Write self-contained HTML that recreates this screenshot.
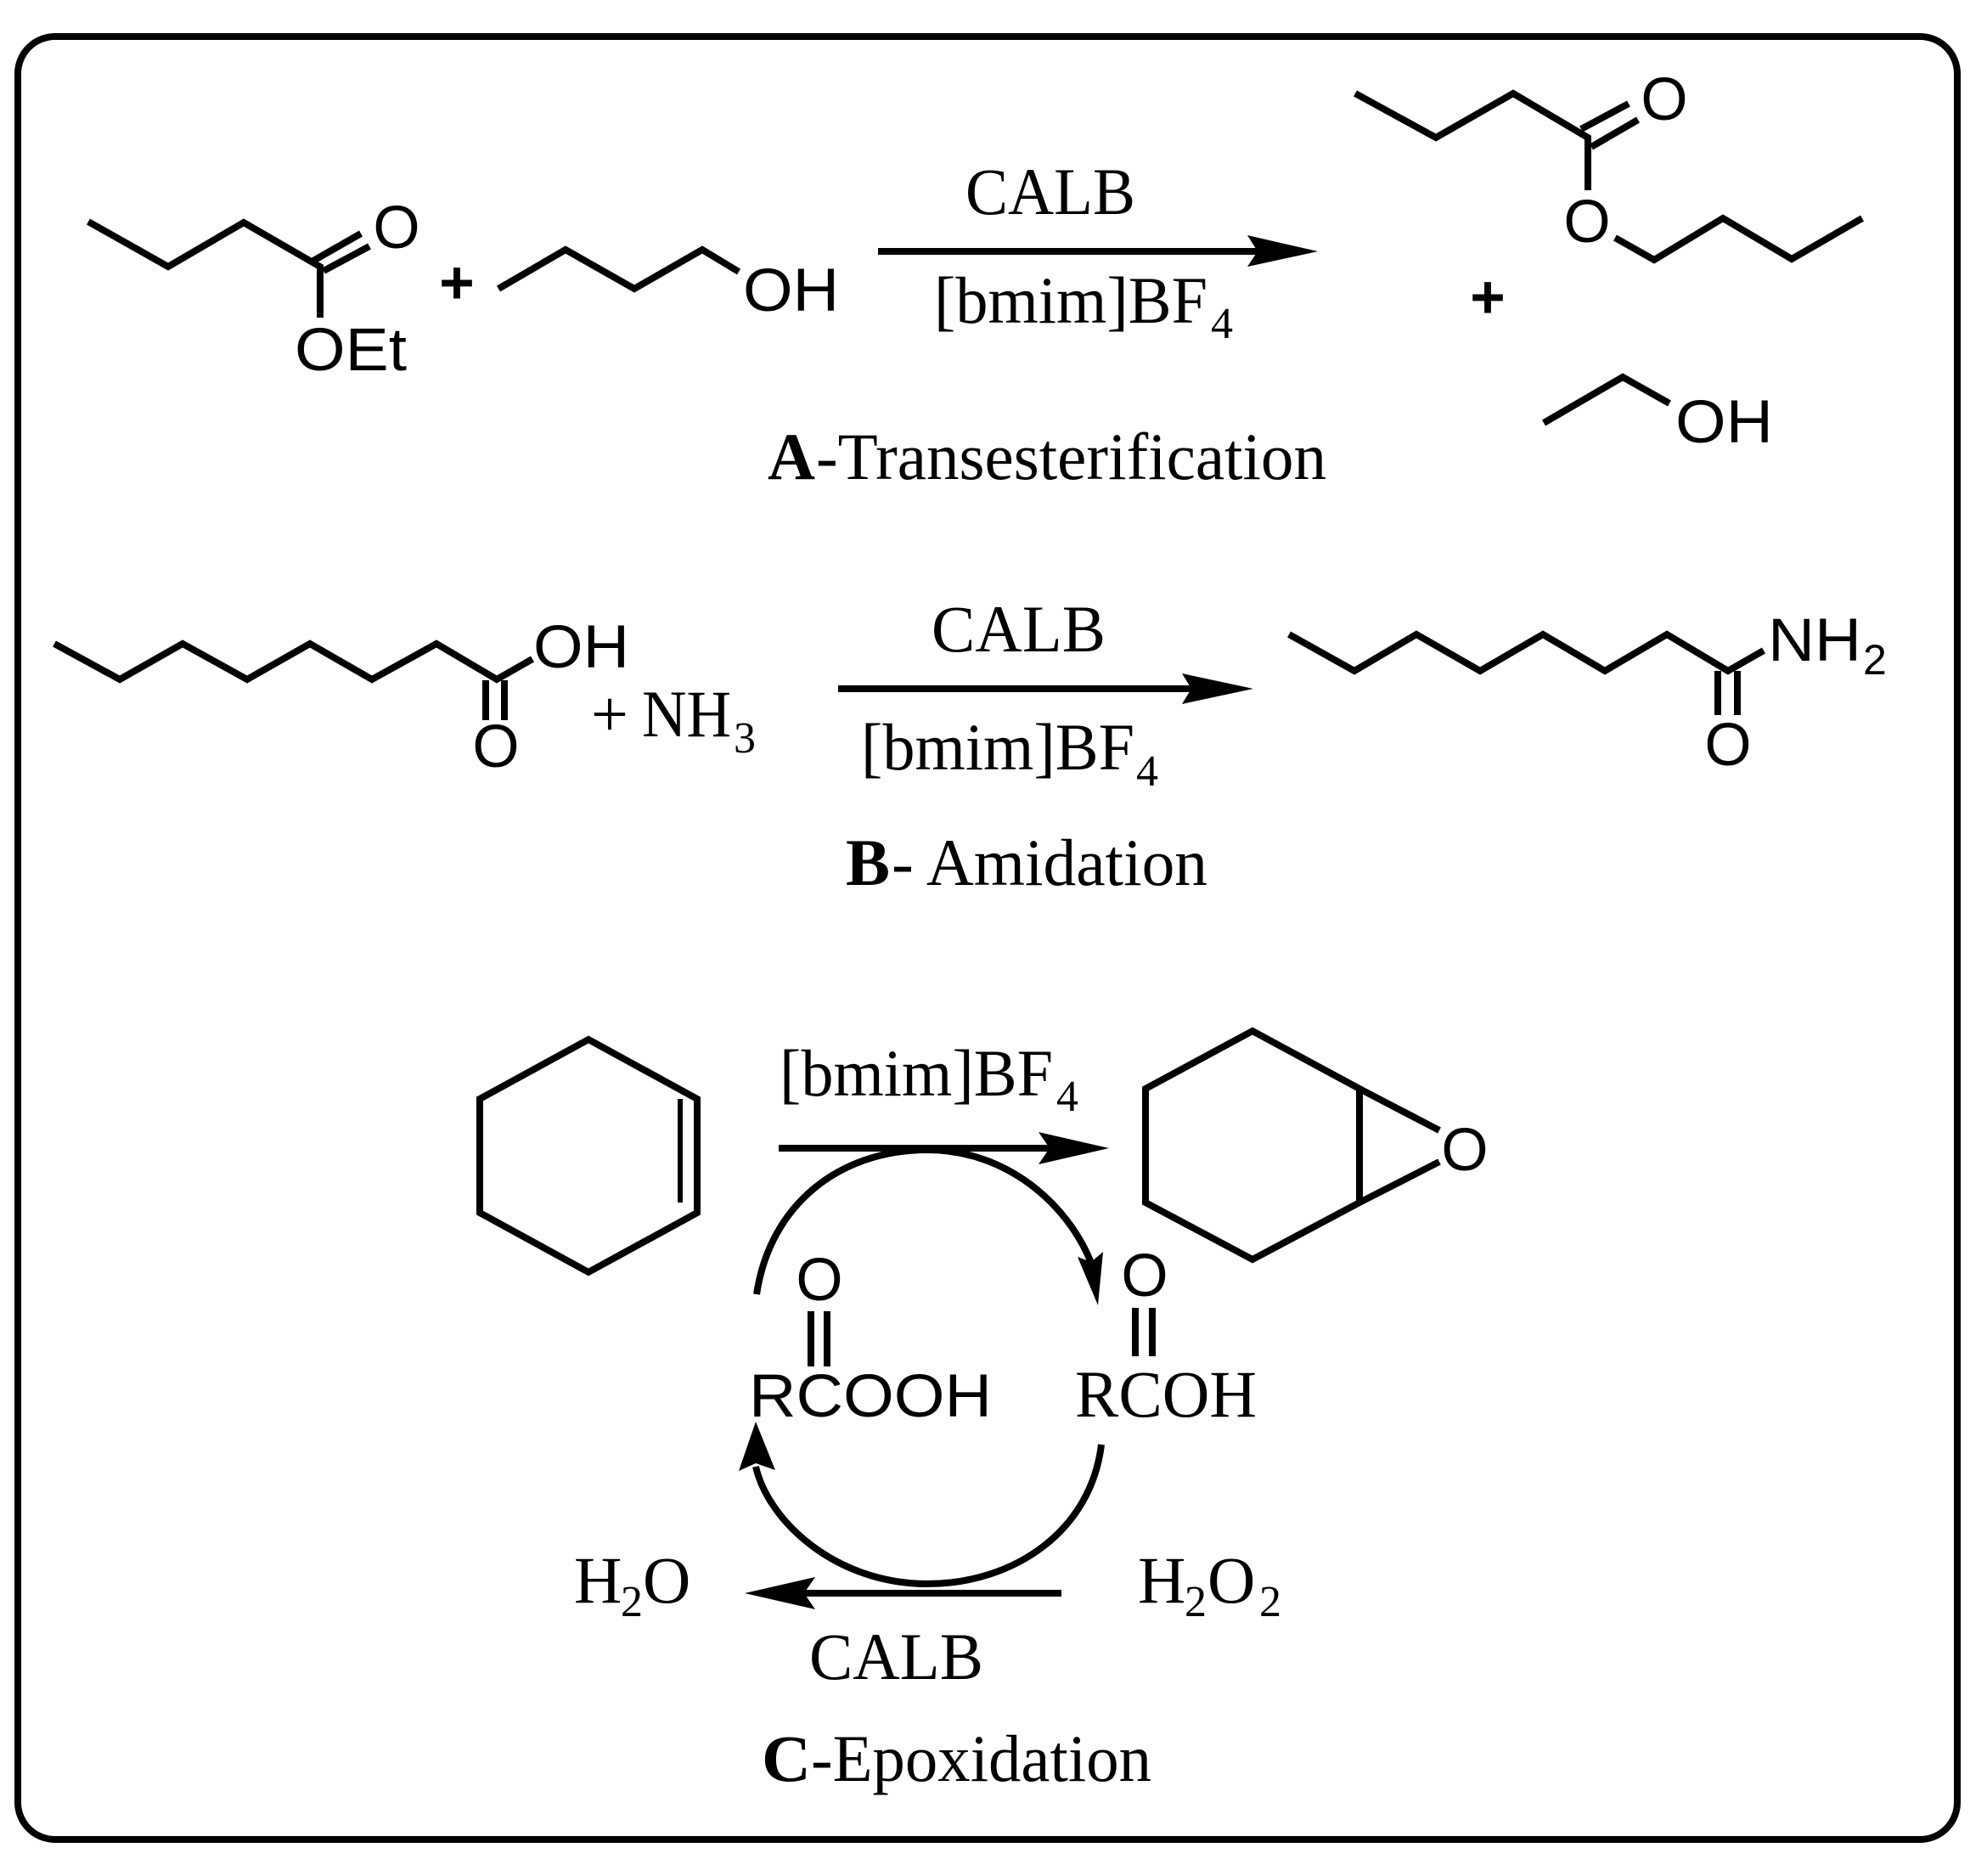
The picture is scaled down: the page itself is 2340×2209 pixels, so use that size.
<!DOCTYPE html>
<html><head><meta charset="utf-8"><style>
html,body{margin:0;padding:0;background:#fff;width:2340px;height:2209px;overflow:hidden}
svg{display:block}
.l{fill:none;stroke:#000;stroke-width:8;stroke-linejoin:miter}
.t{stroke-width:6;fill:none;stroke:#000}
.s{font-family:"Liberation Sans",sans-serif;font-size:71px;fill:#000}
.r{font-family:"Liberation Serif",serif;font-size:78px;fill:#000}
.b{font-weight:bold}
.u{font-family:"Liberation Serif",serif;font-size:52px;fill:#000}
</style></head><body>
<svg width="2340" height="2209" viewBox="0 0 2340 2209" xmlns="http://www.w3.org/2000/svg">
<rect x="21" y="43" width="2284" height="2132" rx="44" ry="44" fill="#fff" stroke="#000" stroke-width="8" transform="scale(1,0.9958) translate(0,0.18)"/>

<!-- A -->
<polyline class="l" points="104,261 198,314 287,262 377,314 377,374"/>
<line class="l" x1="369" y1="307" x2="425" y2="275"/><line class="l" x1="381" y1="319" x2="435" y2="290"/>
<text class="s" x="467" y="292" text-anchor="middle">O</text>
<text class="s" x="347" y="436" textLength="132" lengthAdjust="spacingAndGlyphs">OEt</text>
<text class="s b" x="538" y="357" text-anchor="middle">+</text>
<polyline class="l" points="590,340 669,294 750,340 830,294 873,320" transform="translate(-3,0)"/>
<text class="s" x="875" y="366" textLength="113" lengthAdjust="spacingAndGlyphs">OH</text>
<line class="l" x1="1034" y1="296" x2="1490" y2="296"/>
<polygon points="1552,296 1469,277 1481,296 1469,314" fill="#000"/>
<text class="r" x="1137" y="252" textLength="200" lengthAdjust="spacingAndGlyphs">CALB</text>
<text class="r" x="1100" y="380" textLength="322" lengthAdjust="spacingAndGlyphs">[bmim]BF</text>
<text class="u" x="1426" y="398">4</text>
<text class="r b" x="904" y="564" textLength="56" lengthAdjust="spacingAndGlyphs">A</text>
<text class="r" x="961" y="564" textLength="601" lengthAdjust="spacingAndGlyphs">-Transesterification</text>

<g transform="translate(-4,0)">
<polyline class="l" points="1603,110 1698,162 1789,110 1877,162 1877,224" transform="translate(-3,0)"/>
<line class="l" x1="1866" y1="152" x2="1922" y2="122"/><line class="l" x1="1878" y1="173" x2="1933" y2="141"/>
</g>
<text class="s" x="1960" y="141" text-anchor="middle">O</text>
<text class="s" x="1869" y="285" text-anchor="middle">O</text>
<polyline class="l" points="1902,280 1948,306 2029,257 2110,305 2193,257"/>
<text class="s b" x="1761" y="374" text-anchor="middle" transform="translate(-9,0)">+</text>
<polyline class="l" points="1818,498 1911,444 1966,475"/>
<text class="s" x="1973" y="521" textLength="115" lengthAdjust="spacingAndGlyphs">OH</text>

<!-- B -->
<g transform="translate(0,-2)">
<polyline class="l" points="64,760 141,802 215,760 291,802 365,760 438,802 514,760 585,802 627,778"/>
<line class="l" x1="572" y1="803" x2="572" y2="850"/><line class="l" x1="594" y1="803" x2="594" y2="850"/>
<text class="s" x="584" y="905" text-anchor="middle">O</text>
</g>
<text class="s" x="628" y="786" textLength="113" lengthAdjust="spacingAndGlyphs">OH</text>
<text class="r" x="696" y="867">+</text>
<text class="r" x="756" y="867" textLength="105" lengthAdjust="spacingAndGlyphs">NH</text>
<text class="u" x="864" y="886">3</text>
<line class="l" x1="993" y1="815" x2="1415" y2="815" transform="translate(-6,-4)"/>
<polygon points="1476,811 1392,793 1403,811 1392,829" fill="#000"/>
<text class="r" x="1097" y="767" textLength="205" lengthAdjust="spacingAndGlyphs">CALB</text>
<text class="r" x="1014" y="906" textLength="322" lengthAdjust="spacingAndGlyphs">[bmim]BF</text>
<text class="u" x="1338" y="925">4</text>
<text class="r b" x="996" y="1042" textLength="52" lengthAdjust="spacingAndGlyphs">B</text>
<text class="r" x="1050" y="1042" textLength="372" lengthAdjust="spacingAndGlyphs">- Amidation</text>

<g transform="translate(-15,-3)">
<polyline class="l" points="1533,750 1610,793 1683,750 1758,793 1832,750 1905,793 1978,750 2050,793 2092,769"/>
<line class="l" x1="2038" y1="793" x2="2038" y2="845"/><line class="l" x1="2061" y1="793" x2="2061" y2="845"/>
<text class="s" x="2050" y="904" text-anchor="middle">O</text>
</g>
<text class="s" x="2082" y="778" textLength="110" lengthAdjust="spacingAndGlyphs">NH</text>
<text class="s" x="2194" y="794" style="font-size:50px">2</text>

<!-- C -->
<g transform="translate(-5,-8)">
<polygon class="l" points="698,1232 826,1302 826,1436 698,1506 570,1436 570,1302"/>
<line class="t" x1="806" y1="1302" x2="806" y2="1424"/>
<line class="l" x1="922" y1="1360" x2="1245" y2="1360"/>
<polygon points="1311,1360 1228,1341 1241,1360 1228,1379" fill="#000"/>
<text class="r" x="923" y="1298" textLength="322" lengthAdjust="spacingAndGlyphs">[bmim]BF</text>
<text class="u" x="1249" y="1316">4</text>

<polygon class="l" points="1480,1222 1606,1290 1606,1424 1480,1491 1354,1424 1354,1290"/>
<line class="l" x1="1606" y1="1290" x2="1700" y2="1339"/>
<line class="l" x1="1606" y1="1424" x2="1700" y2="1376"/>
<text class="s" x="1730" y="1386" text-anchor="middle">O</text>

<path class="l" d="M896,1532 C912,1425 995,1362 1097,1362 C1190,1362 1262,1425 1290,1495"/>
<polygon points="1298,1545 1274,1488 1290,1494 1304,1482" fill="#000"/>
<path class="l" d="M1302,1709 C1290,1810 1200,1873 1097,1873 C990,1873 910,1800 895,1735"/>
<polygon points="895,1682 875,1740 895,1731 918,1739" fill="#000"/>

<text class="s" x="970" y="1539" text-anchor="middle">O</text>
<line class="l" x1="960" y1="1552" x2="960" y2="1617"/><line class="l" x1="979" y1="1552" x2="979" y2="1617"/>
<text class="s" x="887" y="1676" textLength="286" lengthAdjust="spacingAndGlyphs">RCOOH</text>
<text class="s" x="1353" y="1534" text-anchor="middle">O</text>
<line class="l" x1="1342" y1="1548" x2="1342" y2="1605"/><line class="l" x1="1362" y1="1548" x2="1362" y2="1605"/>
<text class="r" x="1271" y="1676" textLength="214" lengthAdjust="spacingAndGlyphs">RCOH</text>

<line class="l" x1="935" y1="1884" x2="1255" y2="1884"/>
<polygon points="882,1884 965,1865 952,1884 965,1903" fill="#000"/>
<text class="r" x="681" y="1895">H</text>
<text class="u" x="736" y="1911">2</text>
<text class="r" x="762" y="1895">O</text>
<text class="r" x="1345" y="1895">H</text>
<text class="u" x="1400" y="1911">2</text>
<text class="r" x="1427" y="1895">O</text>
<text class="u" x="1488" y="1911">2</text>
<text class="r" x="958" y="1985" textLength="205" lengthAdjust="spacingAndGlyphs">CALB</text>
<text class="r b" x="902" y="2105" textLength="58" lengthAdjust="spacingAndGlyphs">C</text>
<text class="r" x="960" y="2105" textLength="401" lengthAdjust="spacingAndGlyphs">-Epoxidation</text>
</g>
</svg>
</body></html>
